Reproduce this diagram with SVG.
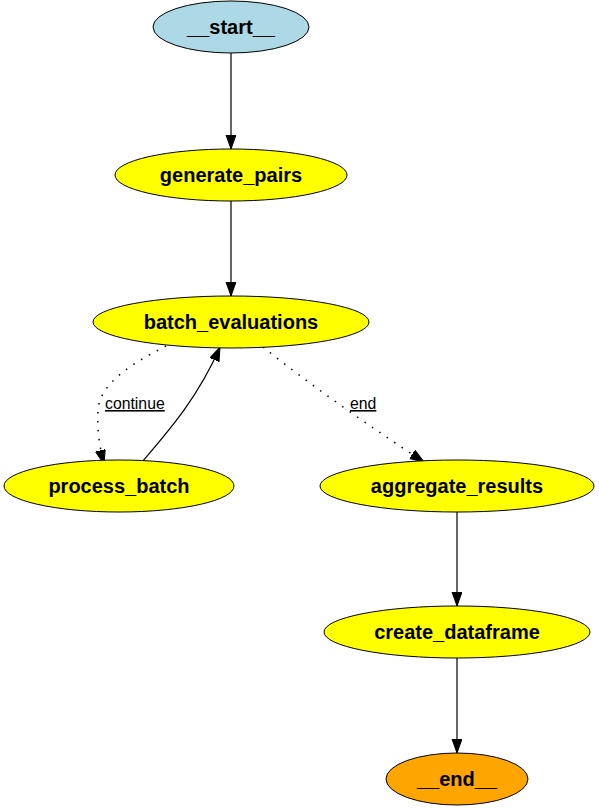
<svg xmlns="http://www.w3.org/2000/svg" width="599" height="809" viewBox="0 0 599 809">
<style>
.n{stroke:#000;stroke-width:1}
.t{font-family:"Liberation Sans",Arial,sans-serif;font-weight:bold;font-size:20px;text-anchor:middle;fill:#000}
.e{fill:none;stroke:#000;stroke-width:1.2}
.d{stroke-dasharray:1.5,7.5;stroke-width:1.5}
.l{font-family:"Liberation Sans",Arial,sans-serif;font-size:15.8px;fill:#000;text-decoration:underline}
</style>
<defs>
<marker id="a" markerUnits="userSpaceOnUse" markerWidth="15" markerHeight="11" refX="14" refY="5" orient="auto">
<path d="M0,0 L14,5 L0,10 z" fill="#000" stroke="#000" stroke-width="1"/>
</marker>
</defs>
<rect width="599" height="809" fill="#fff"/>
<g id="edges">
<path class="e" d="M231,53 L231,149" marker-end="url(#a)"/>
<path class="e" d="M231,201 L231,296" marker-end="url(#a)"/>
<path class="e d" d="M166,346 C135,362 100,382 98,410 C97,428 99,445 104,464" marker-end="url(#a)"/>
<path class="e" d="M142,462 C165,435 197,400 220,347" marker-end="url(#a)"/>
<path class="e d" d="M263,347 C310,385 375,430 424,462" marker-end="url(#a)"/>
<path class="e" d="M457,512 L457,606" marker-end="url(#a)"/>
<path class="e" d="M457,658 L457,753" marker-end="url(#a)"/>
<text class="l" x="105" y="409">continue</text>
<text class="l" x="350" y="409">end</text>
</g>
<g id="start"><ellipse class="n" cx="231" cy="27" rx="78" ry="26" fill="#add8e6"/><text class="t" x="231" y="34">__start__</text></g>
<g id="generate_pairs"><ellipse class="n" cx="231" cy="175" rx="116" ry="26" fill="#ffff00"/><text class="t" x="231" y="182">generate_pairs</text></g>
<g id="batch_evaluations"><ellipse class="n" cx="231" cy="322" rx="138" ry="26" fill="#ffff00"/><text class="t" x="231" y="329">batch_evaluations</text></g>
<g id="process_batch"><ellipse class="n" cx="119" cy="486" rx="115" ry="26" fill="#ffff00"/><text class="t" x="119" y="493">process_batch</text></g>
<g id="aggregate_results"><ellipse class="n" cx="457" cy="486" rx="137" ry="26" fill="#ffff00"/><text class="t" x="457" y="493">aggregate_results</text></g>
<g id="create_dataframe"><ellipse class="n" cx="457" cy="632" rx="133" ry="26" fill="#ffff00"/><text class="t" x="457" y="639">create_dataframe</text></g>
<g id="end"><ellipse class="n" cx="457" cy="779" rx="71" ry="26" fill="#ffa500"/><text class="t" x="457" y="786">__end__</text></g>
</svg>
